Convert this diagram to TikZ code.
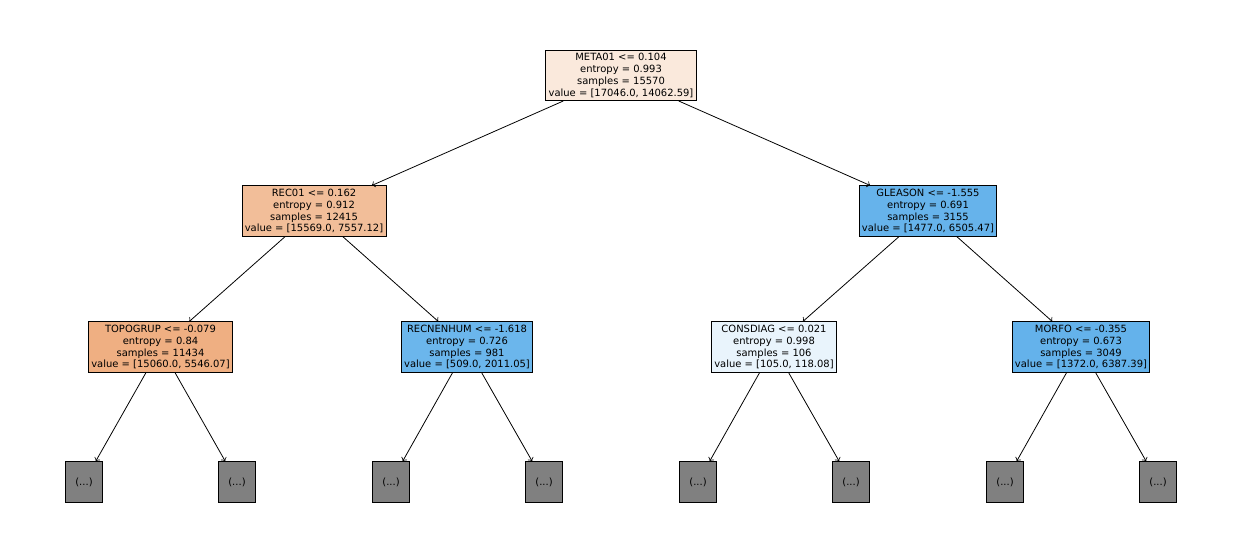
\documentclass[tikz,border=0pt]{standalone}
\usepackage{fontspec}
\setmainfont{DejaVu Sans}
\usepackage{xcolor}

\definecolor{rootcol}{RGB}{250,233,220}
\definecolor{recol}{RGB}{242,190,153}
\definecolor{gleasoncol}{RGB}{102,179,235}
\definecolor{topocol}{RGB}{239,175,130}
\definecolor{recnencol}{RGB}{107,182,236}
\definecolor{consdiagcol}{RGB}{233,244,252}
\definecolor{morfocol}{RGB}{100,178,235}
\definecolor{leafcol}{RGB}{128,128,128}

\begin{document}
\begin{tikzpicture}[x=0.02cm, y=-0.02cm,
   split/.style={draw, line width=0.5pt, align=center, inner sep=1.6pt,
      font=\fontsize{5.67}{6.8}\selectfont},
   leaf/.style={draw, line width=0.5pt, fill=leafcol, minimum width=38*0.567pt,
      minimum height=41*0.567pt, inner sep=0pt, font=\fontsize{5.67}{6.8}\selectfont},
   edge/.style={->, line width=0.45pt}]
\useasboundingbox (0,0) rectangle (1242,558);

\node[split, fill=rootcol] (META) at (621,75.5)
   {META01 <= 0.104\\entropy = 0.993\\samples = 15570\\value = [17046.0, 14062.59]};

\node[split, fill=recol] (REC) at (314,211)
   {REC01 <= 0.162\\entropy = 0.912\\samples = 12415\\value = [15569.0, 7557.12]};
\node[split, fill=gleasoncol] (GLEASON) at (928,211)
   {GLEASON <= -1.555\\entropy = 0.691\\samples = 3155\\value = [1477.0, 6505.47]};

\node[split, fill=topocol] (TOPO) at (160.5,347)
   {TOPOGRUP <= -0.079\\entropy = 0.84\\samples = 11434\\value = [15060.0, 5546.07]};
\node[split, fill=recnencol] (RECNEN) at (467,347)
   {RECNENHUM <= -1.618\\entropy = 0.726\\samples = 981\\value = [509.0, 2011.05]};
\node[split, fill=consdiagcol] (CONS) at (774,347)
   {CONSDIAG <= 0.021\\entropy = 0.998\\samples = 106\\value = [105.0, 118.08]};
\node[split, fill=morfocol] (MORFO) at (1081,347)
   {MORFO <= -0.355\\entropy = 0.673\\samples = 3049\\value = [1372.0, 6387.39]};

\node[leaf] (L1) at (84,482) {(...)};
\node[leaf] (L2) at (237,482) {(...)};
\node[leaf] (L3) at (391,482) {(...)};
\node[leaf] (L4) at (544,482) {(...)};
\node[leaf] (L5) at (698,482) {(...)};
\node[leaf] (L6) at (851,482) {(...)};
\node[leaf] (L7) at (1005,482) {(...)};
\node[leaf] (L8) at (1158,482) {(...)};

\draw[edge] (META) -- (REC);
\draw[edge] (META) -- (GLEASON);
\draw[edge] (REC) -- (TOPO);
\draw[edge] (REC) -- (RECNEN);
\draw[edge] (GLEASON) -- (CONS);
\draw[edge] (GLEASON) -- (MORFO);
\draw[edge] (TOPO) -- (L1);
\draw[edge] (TOPO) -- (L2);
\draw[edge] (RECNEN) -- (L3);
\draw[edge] (RECNEN) -- (L4);
\draw[edge] (CONS) -- (L5);
\draw[edge] (CONS) -- (L6);
\draw[edge] (MORFO) -- (L7);
\draw[edge] (MORFO) -- (L8);
\end{tikzpicture}
\end{document}
